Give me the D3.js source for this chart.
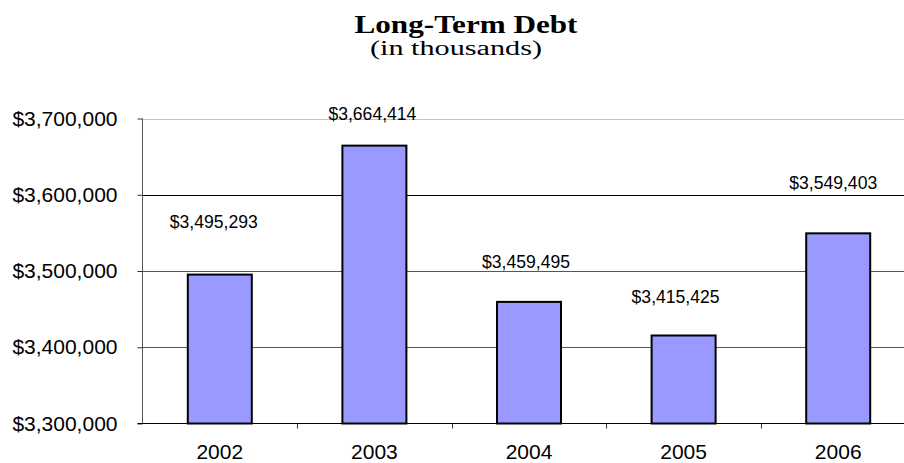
<!DOCTYPE html>
<html>
<head>
<meta charset="utf-8">
<script src="https://cdn.jsdelivr.net/npm/d3@7"></script>
<style>
html,body{margin:0;padding:0;background:#fff;overflow:hidden;}
svg{display:block;}
</style>
</head>
<body>
<svg id="chart" width="904" height="463"></svg>
<script>
const years = ["2002", "2003", "2004", "2005", "2006"];
const debt = [3495293, 3664414, 3459495, 3415425, 3549403];
const yTicks = [3300000, 3400000, 3500000, 3600000, 3700000];
const title = "Long-Term Debt";
const subtitle = "(in thousands)";

(function () {
const svg = d3.select("#chart");
const mLeft = 142.5, mRight = 915.5, mTop = 118.5, mBottom = 423.5;

const x = d3.scaleBand().domain(years).range([mLeft, mRight]).paddingInner(0).paddingOuter(0);
const y = d3.scaleLinear().domain([3300000, 3700000]).range([mBottom, mTop]);
const fmt = v => "$" + d3.format(",")(v);

// Title
svg.append("text").attr("x", 466).attr("y", 33)
  .attr("text-anchor", "middle")
  .style("font-family", "'Liberation Serif','Times New Roman',serif")
  .style("font-weight", "bold").style("font-size", "26px")
  .attr("textLength", 223).attr("lengthAdjust", "spacingAndGlyphs")
  .text(title);
svg.append("text").attr("x", 456).attr("y", 55)
  .attr("text-anchor", "middle")
  .style("font-family", "'Liberation Serif','Times New Roman',serif")
  .style("font-size", "20px")
  .attr("textLength", 172).attr("lengthAdjust", "spacingAndGlyphs")
  .text(subtitle);

// Gridlines
const gridColor = v => v === 3700000 ? "#c4c4c4" : (v === 3600000 ? "#000" : "#555");
svg.append("g").selectAll("line").data(yTicks.filter(v => v > 3300000)).join("line")
  .attr("x1", mLeft).attr("x2", 904)
  .attr("y1", d => Math.round(y(d)) + 0.5).attr("y2", d => Math.round(y(d)) + 0.5)
  .attr("stroke", gridColor).attr("stroke-width", 1);

// Bars
const barW = 64;
svg.append("g").selectAll("rect").data(debt).join("rect")
  .attr("x", (d, i) => x(years[i]) + x.bandwidth() / 2 - barW / 2)
  .attr("y", d => y(d))
  .attr("width", barW)
  .attr("height", d => mBottom - y(d))
  .attr("fill", "#9999ff")
  .attr("stroke", "#000").attr("stroke-width", 2);

// Y axis
const yAxis = d3.axisLeft(y).tickValues(yTicks).tickFormat(fmt).tickSize(5).tickPadding(20);
const gy = svg.append("g").attr("transform", `translate(${mLeft},0)`).call(yAxis);
gy.select(".domain").attr("stroke", "#555").attr("d", `M0,${mTop}V${mBottom}`);
gy.selectAll(".tick line").attr("stroke", "#333");
gy.selectAll(".tick text")
  .style("font-family", "'Liberation Sans',Arial,sans-serif")
  .style("font-size", "21px").attr("fill", "#000");

// X axis
const xAxis = d3.axisBottom(x).tickSize(0).tickPadding(21);
const gx = svg.append("g").attr("transform", `translate(0,${mBottom})`).call(xAxis);
gx.select(".domain").attr("stroke", "#000").attr("d", `M${mLeft - 5},0H904`);
gx.selectAll(".tick text")
  .style("font-family", "'Liberation Sans',Arial,sans-serif")
  .style("font-size", "21px").attr("fill", "#000");
// category boundary ticks
const bounds = years.map(yr => x(yr)).concat([mRight]);
svg.append("g").selectAll("line").data(bounds.slice(1)).join("line")
  .attr("x1", d => Math.round(d) + 0.5).attr("x2", d => Math.round(d) + 0.5)
  .attr("y1", mBottom).attr("y2", mBottom + 5)
  .attr("stroke", "#333");

// Data labels (individually lifted, as in the source chart)
const lift = [47, 26, 34, 32, 44];
const nudge = [-6, -2, -3, -8, -5];
svg.append("g").selectAll("text").data(debt).join("text")
  .attr("x", (d, i) => x(years[i]) + x.bandwidth() / 2 + nudge[i])
  .attr("y", (d, i) => y(d) - lift[i])
  .attr("text-anchor", "middle")
  .style("font-family", "'Liberation Sans',Arial,sans-serif")
  .style("font-size", "18px").attr("fill", "#000")
  .attr("textLength", 88).attr("lengthAdjust", "spacingAndGlyphs")
  .text(d => fmt(d));
})();
</script>
</body>
</html>
